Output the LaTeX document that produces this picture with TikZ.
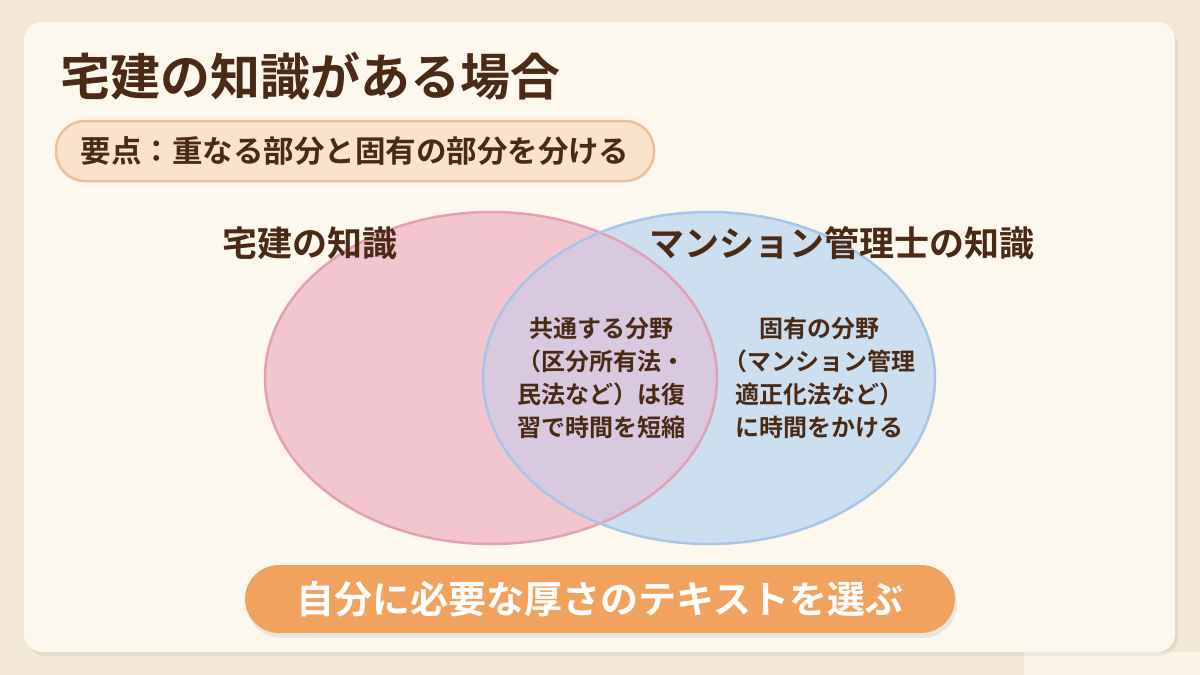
\documentclass[tikz,border=0pt]{standalone}
\usepackage{fontspec}
\setmainfont{Noto Sans CJK JP}[BoldFont={Noto Sans CJK JP Bold}]
\usetikzlibrary{positioning}
\definecolor{bg}{HTML}{F3E8D6}
\definecolor{card}{HTML}{FDF8EE}
\definecolor{brown}{HTML}{4A2A14}
\definecolor{pillfill}{HTML}{FBE2CB}
\definecolor{pillline}{HTML}{EDBE98}
\definecolor{pinkfill}{HTML}{F3C5CF}
\definecolor{pinkline}{HTML}{E2A0B2}
\definecolor{bluefill}{HTML}{CBDFF1}
\definecolor{blueline}{HTML}{A6C6E7}
\definecolor{purplefill}{HTML}{D8C8E0}
\definecolor{btn}{HTML}{F1A25F}
\tikzset{
  titletext/.style={font=\bfseries\fontsize{50}{55}\selectfont, text=brown, anchor=west, inner sep=0pt},
  pilltext/.style={font=\bfseries\fontsize{30.5}{34}\selectfont, text=brown, inner sep=0pt},
  setlabel/.style={font=\bfseries\fontsize{35}{40}\selectfont, text=brown, inner sep=0pt},
  areatext/.style={font=\bfseries\fontsize{24}{33}\selectfont, text=brown, align=center, inner sep=0pt},
  btntext/.style={font=\bfseries\fontsize{38}{42}\selectfont, text=white, inner sep=0pt},
}
\begin{document}
\begin{tikzpicture}[x=1pt,y=-1pt]
\useasboundingbox (0,0) rectangle (1200,675);
\fill[bg] (0,0) rectangle (1200,675);
\fill[card!80!bg] (1024,652) rectangle (1200,675);
% card shadow
\fill[black,opacity=0.06,rounded corners=20pt] (26,26) rectangle (1178,656);
\fill[card,rounded corners=18pt] (24,22) rectangle (1175,652);
% title
\node[titletext] (title) at (60,76) {宅建の知識がある場合};
% pill
\node[draw=pillline, line width=2.5pt, fill=pillfill, rounded corners=29pt, minimum width=598pt, minimum height=60pt] (pill) at (355,151) {};
\node[pilltext] (pilltxt) at (pill.center) {要点：重なる部分と固有の部分を分ける};
% venn
\coordinate (lc) at (491,378);
\coordinate (rc) at (709,378);
\fill[pinkfill] (lc) ellipse [x radius=226pt, y radius=166pt];
\fill[bluefill] (rc) ellipse [x radius=226pt, y radius=166pt];
\begin{scope}
  \clip (lc) ellipse [x radius=226pt, y radius=166pt];
  \fill[purplefill] (rc) ellipse [x radius=226pt, y radius=166pt];
\end{scope}
\draw[pinkline,line width=2.5pt] (lc) ellipse [x radius=226pt, y radius=166pt];
\draw[blueline,line width=2.5pt] (rc) ellipse [x radius=226pt, y radius=166pt];
\node[setlabel] (lbl1) at (310,243) {宅建の知識};
\node[setlabel] (lbl2) at (842,243) {マンション管理士の知識};
\node[areatext] (common) at (601,378) {共通する分野\\（区分所有法・\\民法など）は復\\習で時間を短縮};
\node[areatext] (own) at (819,378) {固有の分野\\（マンション管理\\適正化法など）\\に時間をかける};
% button
\fill[black,opacity=0.07,rounded corners=34pt] (247,570) rectangle (957,638);
\node[fill=btn, rounded corners=34pt, minimum width=710pt, minimum height=68pt, inner sep=0pt] (button) at (600,599) {};
\node[btntext] (btntxt) at (button.center) {自分に必要な厚さのテキストを選ぶ};
\end{tikzpicture}
\end{document}
